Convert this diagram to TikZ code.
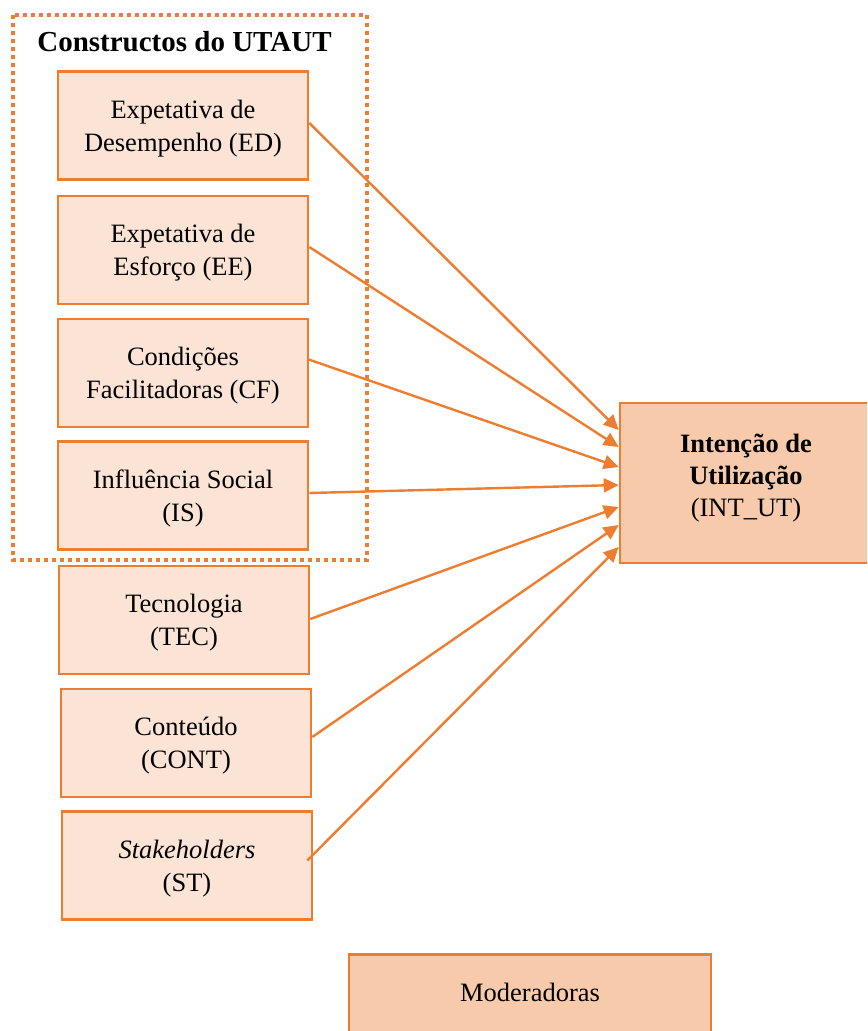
\documentclass[tikz,border=0pt]{standalone}
\usepackage{fontspec}
\setmainfont{Liberation Serif}
\usetikzlibrary{calc,arrows.meta}
\definecolor{ostroke}{HTML}{ED7D31}
\definecolor{olight}{HTML}{FBE4D5}
\definecolor{omid}{HTML}{F7CAAC}
\tikzset{
  lbox/.style={draw=ostroke, fill=olight, line width=1.3pt, minimum width=125pt, minimum height=54pt, align=center, inner sep=0pt, font=\fontsize{13.25pt}{16.5pt}\selectfont},
  mbox/.style={draw=ostroke, fill=omid, line width=1.3pt, align=center, inner sep=0pt, font=\fontsize{13.25pt}{16pt}\selectfont},
  arr/.style={draw=ostroke, line width=1.2pt, -{Triangle[length=7.5pt,width=7pt]}},
  dotbox/.style={draw=ostroke, line width=2pt, dash pattern=on 2pt off 2pt},
}
\newcommand{\topstrut}{\rule{0pt}{12pt}}
\begin{document}
\begin{tikzpicture}[x=0.5pt,y=-0.5pt]
\useasboundingbox (0,0) rectangle (867,1031);
\clip (0,0) rectangle (867,1031);
\fill[white] (0,0) rectangle (867,1031);
\draw[dotbox] (13,15) rectangle (367,560);
\node[anchor=base, font=\fontsize{14.5pt}{17pt}\selectfont\bfseries] (title) at (184.5,52) {Constructos do UTAUT};
\node[lbox] (ED) at (183,125.5) {\topstrut Expetativa de\\Desempenho (ED)};
\node[lbox] (EE) at (183,250) {\topstrut Expetativa de\\Esforço (EE)};
\node[lbox] (CF) at (183,373) {\topstrut Condições\\Facilitadoras (CF)};
\node[lbox] (IS) at (183,495.5) {\topstrut Influência Social\\(IS)};
\node[lbox] (TEC) at (184,620) {\topstrut Tecnologia\\(TEC)};
\node[lbox] (CONT) at (186,743) {\topstrut Conteúdo\\(CONT)};
\node[lbox] (ST) at (187,865.5) {\topstrut\textit{Stakeholders}\\(ST)};
\node[mbox, minimum width=126pt, minimum height=80pt] (INT) at (746,483) {\textbf{Intenção de}\\\textbf{Utilização}\\(INT\_UT)\rule[-8pt]{0pt}{8pt}};
\node[mbox, anchor=north, minimum width=181pt, text height=23.5pt, text depth=40pt] (MOD) at (530,953) {Moderadoras};
\draw[arr] ($(ED.east)+(0,-2.5)$) -- ($(INT.west)+(0,-53)$);
\draw[arr] ($(EE.east)+(0,-3)$) -- ($(INT.west)+(0,-36)$);
\draw[arr] ($(CF.east)+(-2,-14)$) -- ($(INT.west)+(0,-16)$);
\draw[arr] ($(IS.east)+(0,-2.5)$) -- ($(INT.west)+(0,2)$);
\draw[arr] ($(TEC.east)+(0,-1)$) -- ($(INT.west)+(0,24)$);
\draw[arr] ($(CONT.east)+(0,-6)$) -- ($(INT.west)+(0,42)$);
\draw[arr] ($(ST.east)+(-6,-5)$) -- ($(INT.west)+(0,64)$);
\end{tikzpicture}
\end{document}
